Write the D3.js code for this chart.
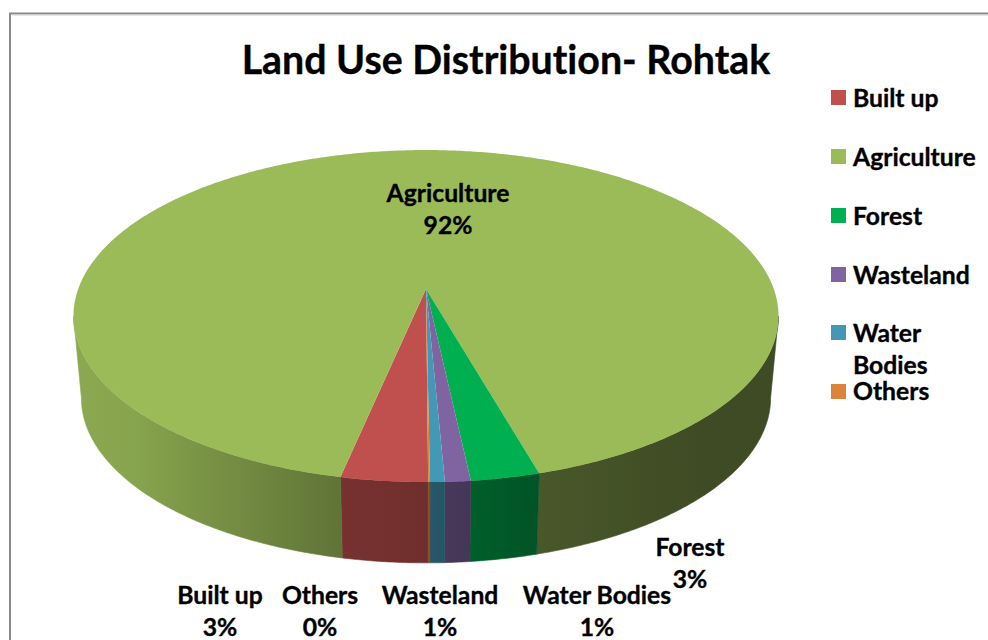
<!DOCTYPE html>
<html><head><meta charset="utf-8">
<script src="https://cdn.jsdelivr.net/npm/d3@7"></script>
<style>html,body{margin:0;padding:0;background:#fff}svg{display:block}text{font-family:Lato,"Open Sans",sans-serif;font-weight:700;fill:#000;stroke:#000;stroke-width:.35px;font-variant-ligatures:none}</style>
</head><body><div id="chart"></div>
<script>
const titleText = "Land Use Distribution- Rohtak";
const categories = ["Built up","Agriculture","Forest","Wasteland","Water Bodies","Others"];
const values = [3.4,92.26,2.7,1.0,0.57,0.07];
const colors = ["#c0504d","#9bbb59","#00b050","#8064a2","#4298b5","#dd843c"];

const W=988,H=640;
const svg=d3.select("#chart").append("svg").attr("width",W).attr("height",H);
const defs=svg.append("defs");

// frame
svg.append("path").attr("d","M10,640V13.5H988").attr("fill","none").attr("stroke","#8a8a8a").attr("stroke-width",2);
svg.append("path").attr("d","M12,15H988").attr("fill","none").attr("stroke","#cfcfcf").attr("stroke-width",1);

// perspective projection of unit disc
const k=0.163, cx=426;
const topFace={ax:347.8,by:161.6,cy:289};
const botFace={ax:340,by:160.6,cy:371};
function proj(f,a){const u=Math.sin(a),v=-Math.cos(a),d=1-k*v;return [cx+f.ax*u/d,f.cy+f.by*v/d];}
function arcPts(f,a0,a1){const n=Math.max(2,Math.ceil(Math.abs(a1-a0)/0.01));return d3.range(n+1).map(i=>proj(f,a0+(a1-a0)*i/n));}
const line=d3.line();

const start=Math.PI-0.3*Math.PI/180;
const arcs=d3.pie().sort(null).startAngle(start).endAngle(start+2*Math.PI)(values);

// wall shade across x
const shade=[[73,.90],[130,.88],[200,.79],[340,.62],[430,.58],[540,.47],[700,.40],[778,.40]];
const xPct=d3.scaleLinear().domain([73,778]).range([0,100]);
arcs.forEach((d,i)=>{
  const g=defs.append("linearGradient").attr("id","wall"+i).attr("gradientUnits","userSpaceOnUse")
    .attr("x1",73).attr("x2",778).attr("y1",0).attr("y2",0);
  shade.forEach(s=>{const c=d3.rgb(colors[i]);
    g.append("stop").attr("offset",xPct(s[0])+"%").attr("stop-color",d3.rgb(c.r*s[1],c.g*s[1],c.b*s[1]).formatHex());});
});

// walls (visible front only)
const vis=80.6*Math.PI/180;
const ranges=[[Math.PI-vis,Math.PI+vis],[3*Math.PI-vis,3*Math.PI+vis]];
const walls=svg.append("g");
arcs.forEach((d,i)=>{
  ranges.forEach(r=>{
    const a0=Math.max(d.startAngle,r[0]),a1=Math.min(d.endAngle,r[1]);
    if(a1<=a0)return;
    const pts=arcPts(topFace,a0,a1).concat(arcPts(botFace,a1,a0));
    walls.append("path").attr("d",line(pts)+"Z").attr("fill",`url(#wall${i})`).attr("stroke",`url(#wall${i})`).attr("stroke-width",.6);
  });
});

// top face
const topG=svg.append("g");
arcs.forEach((d,i)=>{
  const pts=[[cx,topFace.cy]].concat(arcPts(topFace,d.startAngle,d.endAngle));
  topG.append("path").attr("d",line(pts)+"Z").attr("fill",colors[i]);
});

// title
svg.append("text").attr("x",506).attr("y",74).attr("text-anchor","middle").attr("font-size",39.3).text(titleText);

// legend
const legendFont=24.7;
const legY=[90,149,208,267,325,384];
const leg=svg.append("g");
categories.forEach((c,i)=>{
  leg.append("rect").attr("x",831).attr("y",legY[i]).attr("width",15).attr("height",15).attr("fill",colors[i]);
  const parts=c==="Water Bodies"?["Water","Bodies"]:[c];
  parts.forEach((p,j)=>leg.append("text").attr("x",853).attr("y",legY[i]+16+(i===5?0:1)+j*32).attr("font-size",legendFont).text(p));
});

// data labels
const labelPos=[[220,604],[448,202],[690,556],[440,604],[597,604],[320,604]];
const labels=svg.append("g").attr("text-anchor","middle").attr("font-size",legendFont);
categories.forEach((c,i)=>{
  const [x,y]=labelPos[i];
  labels.append("text").attr("x",x).attr("y",y).text(c);
  labels.append("text").attr("x",x).attr("y",y+32).text(Math.round(values[i])+"%");
});
</script></body></html>
